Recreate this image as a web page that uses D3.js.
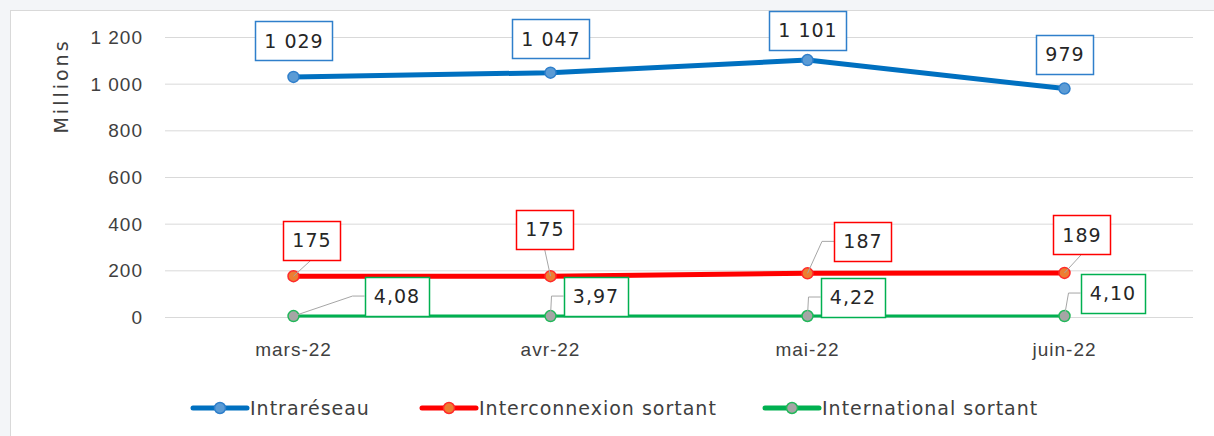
<!DOCTYPE html>
<html>
<head>
<meta charset="utf-8">
<script src="https://cdn.jsdelivr.net/npm/d3@7"></script>
<style>
  html, body { margin: 0; padding: 0; background: #f3f5f8; }
  svg { display: block; font-family: "DejaVu Sans", Verdana, sans-serif; }
</style>
</head>
<body>
<div id="chart"></div>
<script>
// chart data
const months = ['mars-22', 'avr-22', 'mai-22', 'juin-22'];
const intrareseau = [1029, 1047, 1101, 979];
const interconnexion = [175, 175, 187, 189];
const international = [4.08, 3.97, 4.22, 4.10];
const yTicks = [0, 200, 400, 600, 800, 1000, 1200];
const seriesNames = ['Intraréseau', 'Interconnexion sortant', 'International sortant'];

// label placement (offset of the box centre from the point), like the moved Excel labels
const labelOffsets = [
  [[0, -36], [0, -34], [0, -30], [0, -34]],
  [[18, -36], [-6, -47], [55, -32], [17, -38]],
  [[103, -20], [45, -20], [45, -19], [48, -23]]
];
const leaders = [
  ['none', 'none', 'none', 'none'],
  ['bottom', 'bottom', 'left', 'bottom'],
  ['left', 'left', 'left', 'left']
];

const width = 1214, height = 436;
const fr = d3.formatLocale({ decimal: ',', thousands: ' ', grouping: [3] });
const fmtInt = fr.format(',d');
const fmtDec = fr.format(',.2f');
const fontSize = '19px';

const styles = [
  { line: '#0070c0', width: 5, fill: '#5b9bd5', stroke: '#2f7fcb', fmt: fmtInt },
  { line: '#ff0000', width: 5, fill: '#ed7d31', stroke: '#ff2a2a', fmt: fmtInt },
  { line: '#00b050', width: 3, fill: '#a5a5a5', stroke: '#22b85a', fmt: fmtDec }
];
const seriesValues = [intrareseau, interconnexion, international];

const svg = d3.select('#chart')
  .append('svg')
  .attr('width', width)
  .attr('height', height);

// chart area with thin border
svg.append('rect')
  .attr('x', 10.5).attr('y', 10.5)
  .attr('width', width).attr('height', height)
  .attr('fill', '#ffffff')
  .attr('stroke', '#d9d9d9');

const x = d3.scaleBand().domain(months).range([165, 1193]);
const y = d3.scaleLinear().domain([0, 1200]).range([317, 37]);
const cx = d => x(d) + x.bandwidth() / 2;

// gridlines + y axis labels
const yAxis = d3.axisLeft(y).tickValues(yTicks).tickFormat(fmtInt)
  .tickSize(-(1193 - 165)).tickPadding(22);
const gy = svg.append('g').attr('transform', 'translate(165,0)').call(yAxis);
gy.select('.domain').remove();
gy.selectAll('.tick line').attr('stroke', '#d9d9d9').attr('stroke-width', 1);
gy.selectAll('.tick text')
  .attr('fill', '#404040')
  .style('font-size', fontSize)
  .style('letter-spacing', '1px')
  .attr('dy', '0.35em');

// x axis labels
const xAxis = d3.axisBottom(x).tickSize(0).tickPadding(26);
const gx = svg.append('g').attr('transform', 'translate(0,317)').call(xAxis);
gx.select('.domain').remove();
gx.selectAll('.tick text')
  .attr('fill', '#404040')
  .style('font-size', fontSize)
  .style('letter-spacing', '1px');

// axis title
svg.append('text')
  .attr('transform', 'translate(68,86) rotate(-90)')
  .attr('text-anchor', 'middle')
  .attr('fill', '#404040')
  .style('font-size', fontSize)
  .style('letter-spacing', '3px')
  .text('Millions');

const line = d3.line().x((d, i) => cx(months[i])).y(d => y(d));

// lines and markers
seriesValues.forEach((vals, s) => {
  const st = styles[s];
  svg.append('path')
    .datum(vals)
    .attr('d', line)
    .attr('fill', 'none')
    .attr('stroke', st.line)
    .attr('stroke-width', st.width)
    .attr('stroke-linejoin', 'round');
  svg.selectAll('.m' + s)
    .data(vals)
    .enter().append('circle')
    .attr('cx', (d, i) => cx(months[i]))
    .attr('cy', d => y(d))
    .attr('r', 5.5)
    .attr('fill', st.fill)
    .attr('stroke', st.stroke)
    .attr('stroke-width', 1.5);
});

// data labels (boxes drawn on top of the lines)
const boxH = 39;
seriesValues.forEach((vals, s) => {
  const st = styles[s];
  vals.forEach((v, i) => {
    const px = cx(months[i]), py = y(v);
    const [dx, dy] = labelOffsets[s][i];
    const bx = px + dx, by = py + dy;
    const g = svg.append('g');
    const t = g.append('text')
      .attr('x', bx + 0.5).attr('y', by)
      .attr('text-anchor', 'middle')
      .attr('dy', '0.36em')
      .attr('fill', '#262626')
      .style('font-size', fontSize)
      .style('letter-spacing', '1px')
      .text(st.fmt(v));
    const tw = t.node().getComputedTextLength();
    const bw = Math.round(tw + 18);
    const left = bx - bw / 2, top = by - boxH / 2;
    const lead = leaders[s][i];
    if (lead === 'bottom') {
      g.insert('path', 'text')
        .attr('d', `M${px},${py}L${bx},${top + boxH}`)
        .attr('stroke', '#a6a6a6').attr('fill', 'none');
    } else if (lead === 'left') {
      g.insert('path', 'text')
        .attr('d', `M${px},${py}L${left - 12},${by}L${left},${by}`)
        .attr('stroke', '#a6a6a6').attr('fill', 'none');
    }
    g.insert('rect', 'text')
      .attr('x', Math.round(left) + 0.5).attr('y', Math.round(top) + 0.5)
      .attr('width', bw).attr('height', boxH)
      .attr('fill', '#ffffff')
      .attr('stroke', s === 0 ? '#2f7fcb' : st.line)
      .attr('stroke-width', 1.5);
  });
});

// legend
const legendX = [193, 422, 765];
const legend = svg.selectAll('.lg')
  .data(seriesNames)
  .enter().append('g')
  .attr('transform', (d, i) => `translate(${legendX[i]},408)`);
legend.append('line')
  .attr('x1', 0).attr('x2', 54)
  .attr('stroke', (d, i) => styles[i].line)
  .attr('stroke-width', 5)
  .attr('stroke-linecap', 'round');
legend.append('circle')
  .attr('cx', 27).attr('r', 5.5)
  .attr('fill', (d, i) => styles[i].fill)
  .attr('stroke', (d, i) => styles[i].stroke)
  .attr('stroke-width', 1.5);
legend.append('text')
  .attr('x', 57).attr('dy', '0.35em')
  .attr('fill', '#404040')
  .style('font-size', fontSize)
  .style('letter-spacing', '1px')
  .text(d => d);
</script>
</body>
</html>
